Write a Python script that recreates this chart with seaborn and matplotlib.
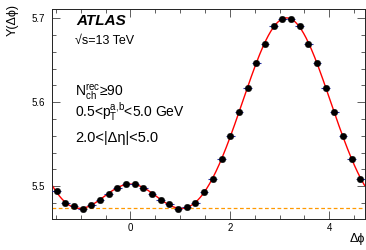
import numpy as np
import pandas as pd
import matplotlib
matplotlib.use("Agg")
import matplotlib.pyplot as plt
import seaborn as sns
from matplotlib.ticker import MultipleLocator

# ---- data (36 bins in delta phi, -pi/2 .. 3pi/2) ----
n_bins = 36
dphi_lo, dphi_hi = -np.pi / 2, 3 * np.pi / 2
y_vals = [
    5.4944, 5.4806, 5.4762, 5.4730, 5.4782, 5.4842, 5.4913, 5.4985, 5.5027,
    5.5024, 5.4980, 5.4905, 5.4842, 5.4786, 5.4726, 5.4750, 5.4806, 5.4932,
    5.5083, 5.5321, 5.5595, 5.5881, 5.6175, 5.6468, 5.6699, 5.6908, 5.6988,
    5.6988, 5.6908, 5.6699, 5.6468, 5.6175, 5.5881, 5.5595, 5.5325, 5.5089,
]
pedestal = 5.4737   # orange dashed line

bin_w = (dphi_hi - dphi_lo) / n_bins
dphi = dphi_lo + (np.arange(n_bins) + 0.5) * bin_w
df = pd.DataFrame({"dphi": dphi, "Y": y_vals})

# Fourier fit (cos terms up to n=4) of the points, for the red curve
order = 4
A = np.column_stack([np.cos(k * df["dphi"]) for k in range(order + 1)])
coef, *_ = np.linalg.lstsq(A, df["Y"], rcond=None)
grid = np.linspace(dphi_lo, dphi_hi, 400)
fit = pd.DataFrame({"dphi": grid,
                    "Y": np.column_stack([np.cos(k * grid) for k in range(order + 1)]) @ coef})

# ---- style ----
sns.set_theme(style="ticks")
plt.rcParams["font.family"] = ["Liberation Sans", "DejaVu Sans"]
plt.rcParams["mathtext.fontset"] = "custom"
plt.rcParams["mathtext.rm"] = "Liberation Sans"
plt.rcParams["mathtext.it"] = "Liberation Sans:italic"
plt.rcParams["mathtext.bf"] = "Liberation Sans:bold"
for k in ["text.color", "axes.labelcolor", "xtick.color", "ytick.color"]:
    plt.rcParams[k] = "black"

W, H = 366, 250
fig = plt.figure(figsize=(W / 100, H / 100), dpi=100)
ax = fig.add_axes([52.3 / W, 1 - 219 / H, (364.7 - 52.3) / W, (219 - 9) / H])

ax.axhline(pedestal, color="#ff9900", lw=0.9, ls=(0, (3, 2)), zorder=1)
sns.lineplot(data=fit, x="dphi", y="Y", color="red", lw=1.0, ax=ax, zorder=2)
ax.errorbar(df["dphi"], df["Y"], xerr=bin_w / 2, fmt="none",
            ecolor="#1f2a9a", elinewidth=0.8, zorder=3)
sns.scatterplot(data=df, x="dphi", y="Y", color="black", s=22,
                edgecolor="black", linewidth=0.3, ax=ax, zorder=4)

ax.set_xlim(dphi_lo, dphi_hi)
ax.set_ylim(5.461, 5.711)
ax.set_xlabel("")
ax.set_ylabel("")
ax.xaxis.set_major_locator(MultipleLocator(2))
ax.xaxis.set_minor_locator(MultipleLocator(0.5))
ax.yaxis.set_major_locator(MultipleLocator(0.1))
ax.yaxis.set_minor_locator(MultipleLocator(0.02))
ax.tick_params(which="both", direction="in", top=True, right=True,
               width=0.6, color="#444444", labelsize=7)
ax.tick_params(which="major", length=5.5)
ax.tick_params(which="minor", length=2.8)
ax.tick_params(axis="y", pad=5)
ax.tick_params(axis="x", pad=3)
for s in ax.spines.values():
    s.set_linewidth(0.7)
    s.set_color("#222222")

# axis titles, ROOT style
fig.text(12.5 / W, 1 - 4 / H, "Y(Δϕ)", rotation=90, ha="center", va="top", fontsize=9)
fig.text(365 / W, 1 - 242 / H, "Δϕ", ha="right", va="baseline", fontsize=9)

# labels
fig.text(76 / W, 1 - 25 / H, "ATLAS", fontsize=11, fontweight="bold",
         fontstyle="italic", va="baseline")
fig.text(75 / W, 1 - 44 / H, "√s=13 TeV", fontsize=9, va="baseline")
fig.text(75 / W, 1 - 96 / H, r"$\mathrm{N_{ch}^{rec}}$≥90", fontsize=10, va="baseline")
fig.text(75 / W, 1 - 117 / H, r"0.5<$\mathrm{p_{T}^{a{,}b}}$<5.0 GeV", fontsize=10, va="baseline")
fig.text(75 / W, 1 - 142 / H, "2.0<|Δη|<5.0", fontsize=10.5, va="baseline")

fig.savefig("out.png", dpi=100)
